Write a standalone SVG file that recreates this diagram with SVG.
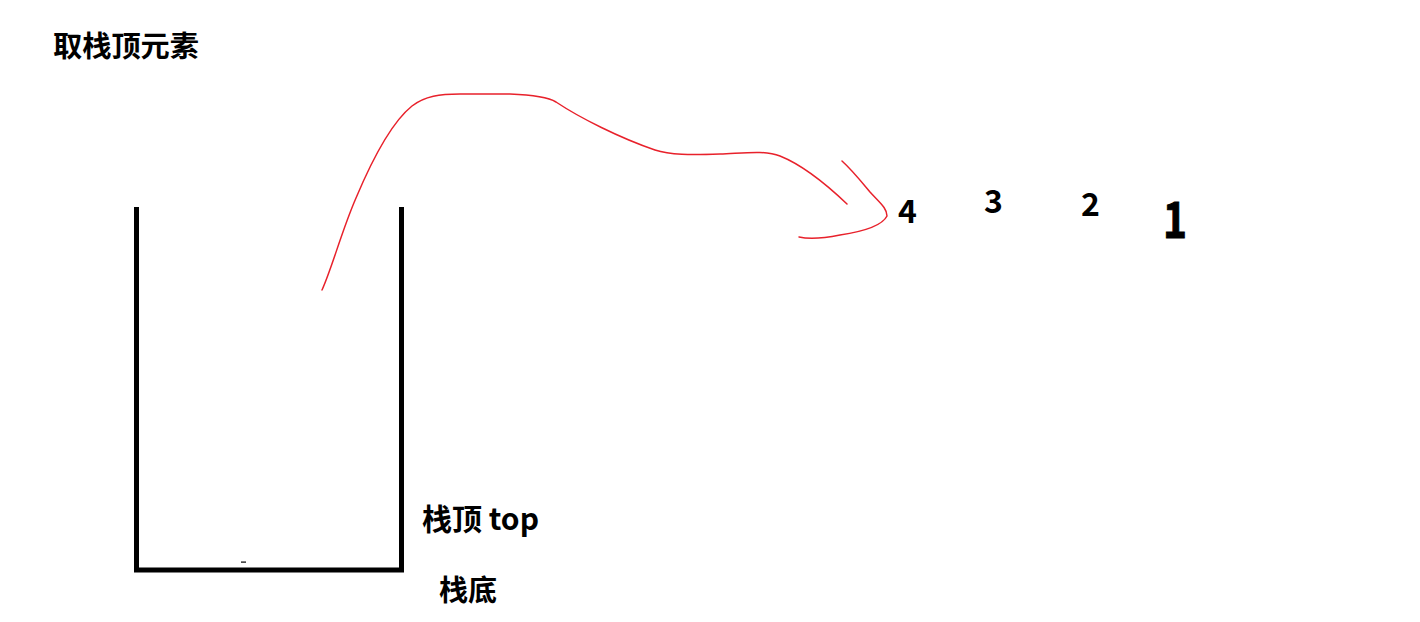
<svg xmlns="http://www.w3.org/2000/svg" width="1420" height="622" viewBox="0 0 1420 622">
<style>
.t{font-family:"Noto Sans CJK SC","Noto Sans",sans-serif;font-weight:bold;fill:#000}
.wall{stroke:#000;stroke-width:5;fill:none}
.red{stroke:#e8212b;stroke-width:1.5;fill:none;stroke-linecap:round;stroke-linejoin:round}
</style>
<rect width="1420" height="622" fill="#fff"/>
<g id="title"><text class="t" x="53" y="57" font-size="29" textLength="146" lengthAdjust="spacingAndGlyphs">取栈顶元素</text></g>
<g id="stack">
<path class="wall" d="M136.5,207 V570 H401.5 V207"/>
<rect x="241" y="561.5" width="5" height="1.2" fill="#000"/>
</g>
<g id="label-top"><text class="t" x="422" y="530" font-size="30">栈顶 top</text></g>
<g id="label-bottom"><text class="t" x="439" y="601" font-size="29">栈底</text></g>
<g id="numbers">
<text class="t" x="898" y="223" font-size="32">4</text>
<text class="t" x="984" y="213" font-size="32">3</text>
<text class="t" x="1081" y="216" font-size="32">2</text>
<text class="t" x="1163" y="238" font-size="50" stroke="#000" stroke-width="1" textLength="24" lengthAdjust="spacingAndGlyphs">1</text>
</g>
<g id="connectors">
<path class="red" d="M322,290 C332,268 342,230 356,198 C372,160 392,122 412,106 C425,96 440,94 460,94 L510,94 C535,95 548,97 556,102 C580,118 620,138 655,150 C670,155 690,155 720,154 C745,153 765,150 780,156 C800,164 825,183 847,204"/>
<path class="red" d="M842,161 C852,170 860,180 870,192 C880,203 887,208 887,216 C882,226 860,232 840,235 C825,238 808,239 799,237"/>
</g>
</svg>
